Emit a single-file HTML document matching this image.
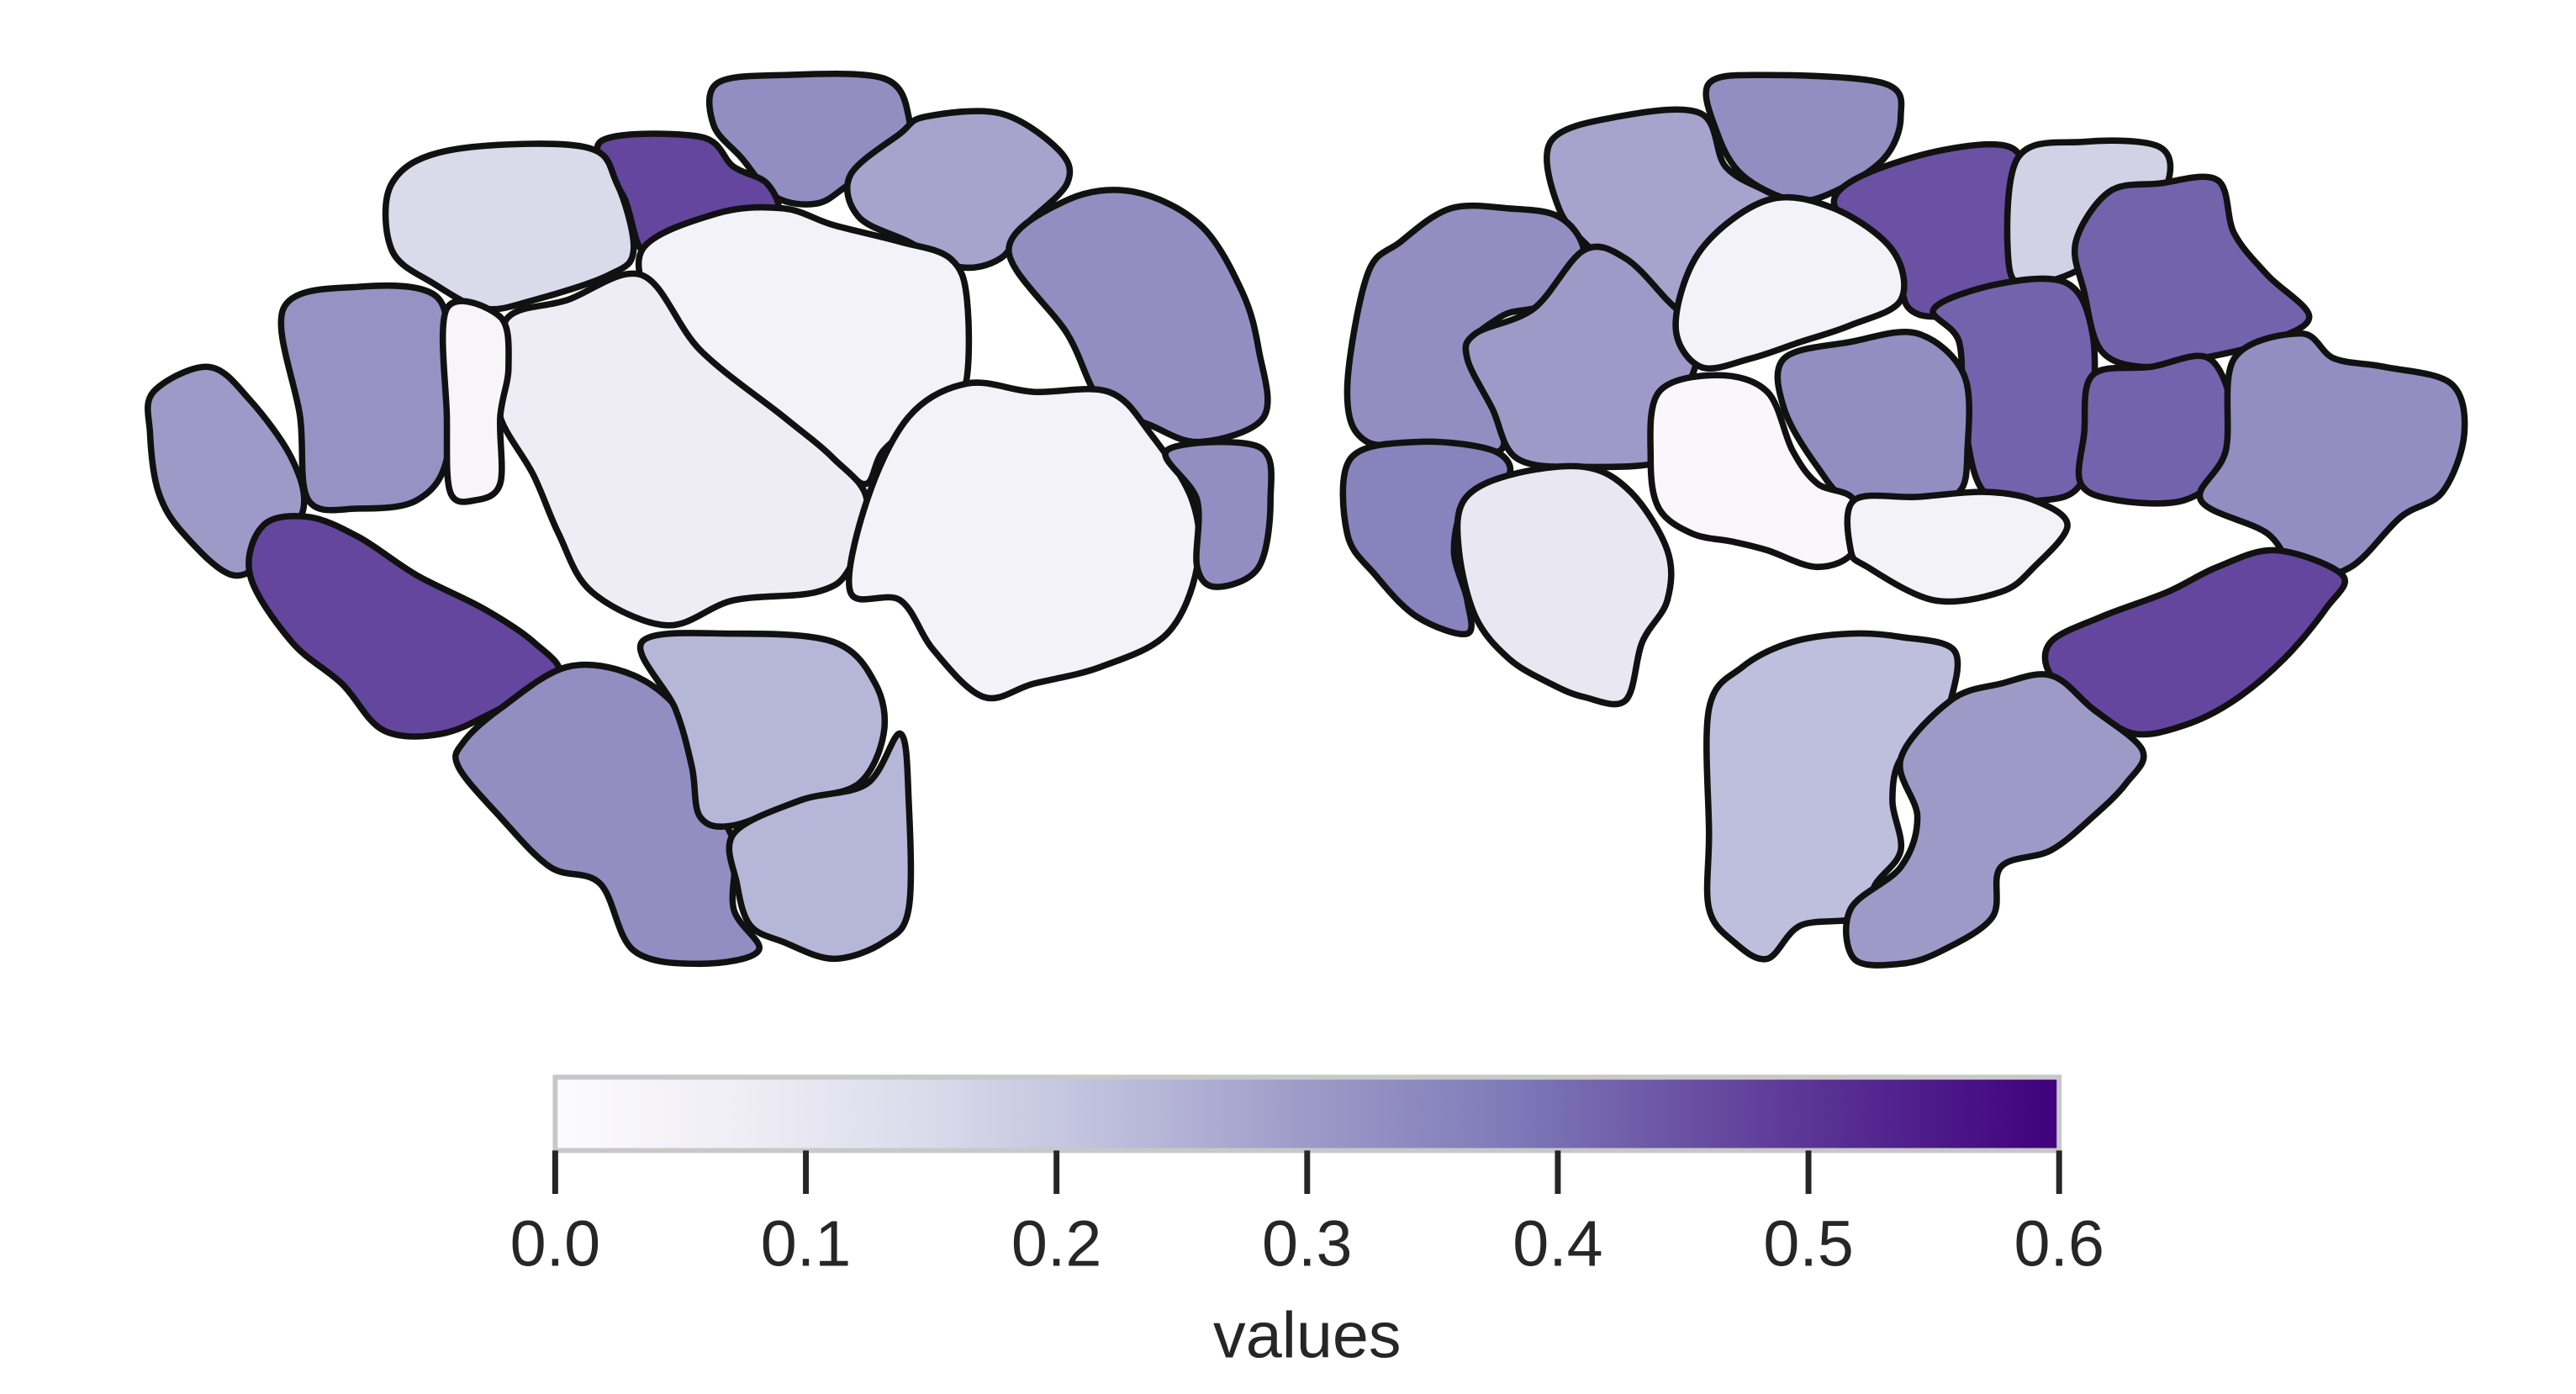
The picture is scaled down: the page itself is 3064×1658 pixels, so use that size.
<!DOCTYPE html>
<html><head><meta charset="utf-8">
<style>
html,body{margin:0;padding:0;background:#fff;}
svg{display:block;}
text{font-family:"Liberation Sans",sans-serif;fill:#262626;}
</style></head>
<body>
<svg id="chart" width="3064" height="1658" viewBox="0 0 1545 836" xmlns="http://www.w3.org/2000/svg">
<defs>
<linearGradient id="purples" x1="0" x2="1" y1="0" y2="0">
<stop offset="0" stop-color="#fcfbfd"/><stop offset="0.125" stop-color="#efedf5"/>
<stop offset="0.25" stop-color="#dadaeb"/><stop offset="0.375" stop-color="#bcbddc"/>
<stop offset="0.5" stop-color="#9e9ac8"/><stop offset="0.625" stop-color="#807dba"/>
<stop offset="0.75" stop-color="#6a51a3"/><stop offset="0.875" stop-color="#54278f"/>
<stop offset="1" stop-color="#3f007d"/></linearGradient>
</defs>
<g id="regions"></g>
<g id="colorbar">
<rect x="333" y="646" width="902" height="44" fill="url(#purples)" stroke="#c8c8c8" stroke-width="3"/>
</g>
<g id="ticks"></g>
<text x="784" y="814" font-size="39" text-anchor="middle">values</text>
</svg>
<script>
const regionNames = ["L1","L2","L3","L4","L5","L6","L7","L8","L9","L10","L11","L12","L13","L14","L15","L16",
"Ra","Rb","Rc","Rd","Re","Rf","Rg","Rh","Ri","Rj","Rk","Rl","Rm","Rn","Ro","Rp","Rq","Rr","Rs"];
const regionValues = [0.33,0.28,0.47,0.15,0.05,0.33,0.32,0.30,0.08,0.05,0.33,0.47,0.33,0.24,0.24,0.03,
0.33,0.28,0.45,0.17,0.33,0.30,0.05,0.42,0.42,0.33,0.42,0.33,0.36,0.10,0.02,0.05,0.47,0.22,0.30];
const tickValues = [0.0,0.1,0.2,0.3,0.4,0.5,0.6];
const tickLabels = ["0.0","0.1","0.2","0.3","0.4","0.5","0.6"];
const vmin = 0, vmax = 0.6;

const shapes = [
"430,50 470,45 530,47 545,70 540,90 510,110 490,122 465,118 445,95 428,75",
"510,105 540,80 555,70 600,68 635,90 640,110 615,135 600,155 575,160 545,145 515,130",
"360,85 420,82 440,100 460,110 465,128 430,130 400,140 385,150 375,120",
"235,110 270,90 350,88 370,110 380,150 365,165 320,180 290,185 260,170 235,150",
"385,150 430,128 470,125 500,135 540,145 570,155 580,180 578,235 555,250 530,270 520,290 505,280 470,250 430,220 395,190",
"605,150 640,120 680,115 720,135 745,175 755,210 758,250 720,265 690,255 660,240 640,200",
"170,185 215,172 262,178 268,220 268,275 250,300 215,305 185,300 180,250",
"92,235 125,220 150,240 175,275 182,305 165,330 140,345 110,320 95,295 90,260",
"305,190 340,180 385,165 420,210 470,250 500,275 520,300 510,340 490,355 440,360 400,375 355,355 335,320 320,285 300,250 300,220",
"520,300 545,250 580,230 620,235 665,235 690,260 715,300 718,340 700,380 660,400 620,410 590,418 560,390 540,360 510,355",
"700,270 755,268 762,300 755,340 730,352 718,340 718,300",
"158,315 185,310 215,322 250,345 290,365 320,385 335,405 300,425 265,440 230,438 205,410 175,385 150,345",
"278,445 300,425 340,400 380,405 410,430 420,470 440,505 440,545 455,570 420,578 380,570 360,530 330,520 300,490 275,460",
"385,385 440,380 500,385 525,410 530,440 515,470 480,480 440,495 420,490 415,460 405,425",
"440,500 480,480 520,470 540,440 545,480 545,545 530,565 500,575 470,565 450,555 442,530",
"268,185 300,190 305,220 300,250 300,290 285,300 270,295 268,250",
"1025,50 1060,45 1130,50 1140,70 1130,95 1100,115 1075,120 1045,105 1030,80",
"930,85 970,70 1020,68 1035,100 1060,115 1080,125 1075,145 1050,165 1030,185 1000,195 980,170 955,150 935,125",
"1100,120 1145,95 1205,88 1215,120 1210,160 1195,185 1165,190 1145,185 1135,160",
"1210,95 1250,85 1295,88 1300,110 1280,135 1250,160 1220,170 1205,160",
"820,165 840,145 870,125 905,125 935,130 950,150 945,180 920,185 900,190 880,210 895,240 900,270 860,265 820,265 808,235",
"885,200 920,185 950,150 975,155 1000,180 1018,200 1015,225 1000,245 1000,275 950,280 910,275 895,245 880,215",
"1020,150 1060,120 1100,125 1135,150 1140,180 1110,195 1080,205 1050,215 1020,220 1005,195",
"1245,145 1265,115 1295,110 1330,108 1340,140 1360,165 1385,190 1360,205 1320,215 1285,220 1260,210 1250,175",
"1160,185 1200,170 1240,170 1255,200 1255,250 1248,290 1225,300 1190,295 1178,250 1175,205",
"1070,215 1110,205 1150,200 1178,225 1180,270 1175,295 1150,300 1110,300 1090,280 1070,245",
"1255,225 1290,220 1325,215 1340,250 1335,280 1310,300 1270,300 1248,290 1250,260",
"1340,215 1380,200 1400,215 1430,220 1470,230 1478,260 1465,295 1440,310 1410,340 1380,345 1360,320 1320,300 1335,270",
"810,275 850,265 895,270 905,285 880,300 872,330 880,360 880,380 850,370 825,345 808,320",
"878,300 905,285 950,280 978,295 1000,330 1000,360 985,385 975,420 950,418 930,410 905,395 885,370 875,330",
"995,235 1030,225 1060,235 1075,270 1090,290 1112,300 1112,330 1090,340 1060,330 1040,325 1015,320 995,305 990,275",
"1112,300 1150,298 1190,295 1220,300 1240,315 1220,340 1200,355 1160,360 1120,340 1110,330",
"1230,385 1260,370 1300,355 1330,340 1365,330 1405,345 1395,365 1370,395 1340,420 1310,435 1280,440 1255,425 1230,405",
"1025,425 1045,400 1075,385 1110,380 1140,382 1172,390 1170,420 1160,440 1140,455 1135,480 1140,510 1125,530 1115,550 1080,555 1060,575 1040,565 1025,545 1025,500",
"1140,455 1170,420 1200,410 1230,405 1255,425 1285,450 1275,470 1255,490 1230,510 1200,520 1195,550 1165,570 1140,578 1112,575 1110,545 1140,520 1150,490"
];

const stops = ["#fcfbfd","#efedf5","#dadaeb","#bcbddc","#9e9ac8","#807dba","#6a51a3","#54278f","#3f007d"];
function hex(c){return [1,3,5].map(i=>parseInt(c.substr(i,2),16));}
function colorFor(v){
  let t = Math.max(0,Math.min(1,(v-vmin)/(vmax-vmin)))*(stops.length-1);
  let i = Math.min(stops.length-2,Math.floor(t)), f=t-i;
  const a=hex(stops[i]), b=hex(stops[i+1]);
  return "rgb("+a.map((x,k)=>Math.round(x+(b[k]-x)*f)).join(",")+")";
}
function smoothPath(str){
  const p=str.trim().split(/\s+/).map(s=>s.split(",").map(Number));
  const n=p.length;let d="M"+p[0][0]+","+p[0][1];
  for(let i=0;i<n;i++){
    const p0=p[(i-1+n)%n],p1=p[i],p2=p[(i+1)%n],p3=p[(i+2)%n];
    const c1=[p1[0]+(p2[0]-p0[0])/6,p1[1]+(p2[1]-p0[1])/6];
    const c2=[p2[0]-(p3[0]-p1[0])/6,p2[1]-(p3[1]-p1[1])/6];
    d+="C"+c1.map(v=>v.toFixed(1))+" "+c2.map(v=>v.toFixed(1))+" "+p2[0]+","+p2[1];
  }
  return d+"Z";
}
const NS="http://www.w3.org/2000/svg";
const g=document.getElementById("regions");
regionNames.forEach((n,i)=>{
  const p=document.createElementNS(NS,"path");
  p.setAttribute("d",smoothPath(shapes[i]));
  p.setAttribute("fill",colorFor(regionValues[i]));
  p.setAttribute("stroke","#111");
  p.setAttribute("stroke-width","3.8");
  p.setAttribute("stroke-linejoin","round");
  
  
  g.appendChild(p);
});
const x0=333,x1=1235;
function xScale(v){return x0+(v-vmin)/(vmax-vmin)*(x1-x0);}
const tg=document.getElementById("ticks");
tickValues.forEach((v,i)=>{
  const x=xScale(v);
  const l=document.createElementNS(NS,"line");
  l.setAttribute("x1",x);l.setAttribute("x2",x);
  l.setAttribute("y1",690);l.setAttribute("y2",716);
  l.setAttribute("stroke","#262626");l.setAttribute("stroke-width","3.5");
  
  
  tg.appendChild(l);
  const t=document.createElementNS(NS,"text");
  t.setAttribute("x",x);t.setAttribute("y",759);
  t.setAttribute("font-size","39");t.setAttribute("text-anchor","middle");
  t.textContent=tickLabels[i];
  
  
  tg.appendChild(t);
});
</script>
</body></html>
